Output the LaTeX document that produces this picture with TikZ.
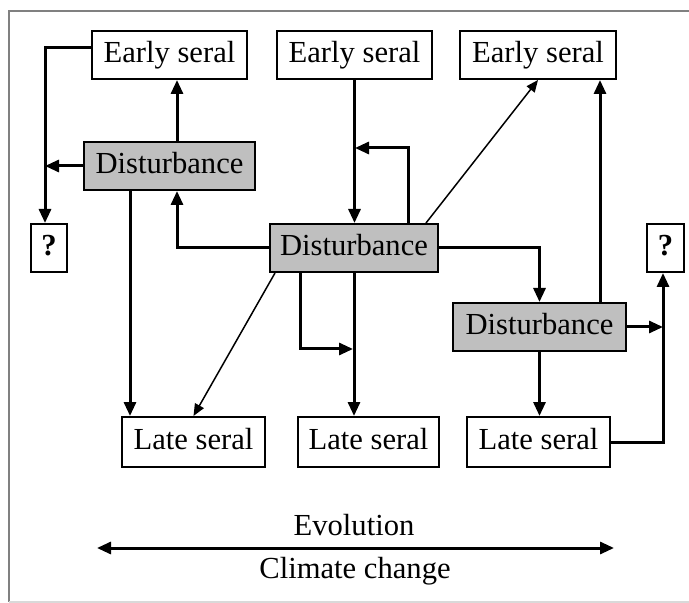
\documentclass[tikz,border=0pt]{standalone}
\usepackage{fontspec}
\setmainfont{Liberation Serif}
\usetikzlibrary{arrows.meta}

\tikzset{
  seral/.style={draw, line width=1pt, fill=white, inner sep=0pt,
    minimum height=24pt, text height=0.72em, text depth=0pt},
  dist/.style={seral, fill=gray!50},
  link/.style={line width=1.5pt, -{Triangle[length=7pt,width=6pt]}},
  thinlink/.style={line width=0.75pt, -{Triangle[length=6pt,width=5pt]}},
}

\begin{document}
\begin{tikzpicture}[x=0.5pt, y=-0.5pt, font=\fontsize{15.3}{18}\selectfont]
\useasboundingbox (0,0) rectangle (689,603);
\draw [gray, line width=0.75pt] (689,11) -- (9,11) -- (9,602);
\draw [gray!30, line width=0.75pt] (9,602) -- (689,602);

\node (es1) [seral, minimum width=77.5pt] at (169.5,55) {Early seral};
\node (es2) [seral, minimum width=77.5pt] at (354.5,55) {Early seral};
\node (es3) [seral, minimum width=78pt] at (538,55) {Early seral};
\node (d1) [dist, minimum width=85.5pt] at (169.5,166) {Disturbance};
\node (d2) [dist, minimum width=84pt] at (354,248) {Disturbance};
\node (d3) [dist, minimum width=86.5pt] at (539.5,327) {Disturbance};
\node (q1) [seral, minimum width=18pt] at (49,248) {\textbf{?}};
\node (q2) [seral, minimum width=18.5pt] at (665.5,248) {\textbf{?}};
\node (ls1) [seral, minimum width=71.5pt, minimum height=25pt] at (193.5,442) {Late seral};
\node (ls2) [seral, minimum width=70.5pt, minimum height=25pt] at (368.5,442) {Late seral};
\node (ls3) [seral, minimum width=71.5pt, minimum height=25pt] at (538.5,442) {Late seral};

\coordinate (qline) at (45,48);
\coordinate (loopin) at (355,148);
\coordinate (bendin) at (353,349);

\draw [link] ([yshift=3.5pt]es1.west) -| ([xshift=-2pt]q1.north);
\draw [link] (d1.west) -- (d1.west -| qline);
\draw [link] ([xshift=3.75pt]d1.north) -- ([xshift=3.75pt]es1.south);
\draw [link] (d2.west) -| ([xshift=3.75pt]d1.south);
\draw [link] ([xshift=-19.75pt]d1.south) -- ([xshift=-19.75pt]d1.south |- ls1.north);
\draw [thinlink] ([xshift=3pt]d2.south west) -- (ls1.north);
\draw [link] (es2.south) -- (es2.south |- d2.north);
\draw [link] ([xshift=27pt]d2.north) |- (loopin);
\draw [thinlink] ([xshift=-6.5pt]d2.north east) -- (es3.south);
\draw [link] (d2.east) -| (d3.north);
\draw [link] ([xshift=-27pt]d2.south) |- (bendin);
\draw [link] (d2.south) -- (d2.south |- ls2.north);
\draw [link] ([xshift=30.25pt]d3.north) -- ([xshift=30.25pt]d3.north |- es3.south);
\draw [link] (d3.east) -- ([xshift=-1.25pt]q2.south |- d3.east);
\draw [link] (ls3.east) -| ([xshift=-1.25pt]q2.south);
\draw [link] (d3.south) -- (d3.south |- ls3.north);

\coordinate (evl) at (97,548);
\coordinate (evr) at (614,548);
\draw [line width=1.5pt, {Triangle[length=7pt,width=6pt]}-{Triangle[length=7pt,width=6pt]}] (evl) -- (evr);
\node (evo) [anchor=base] at (354,535) {Evolution};
\node (clim) [anchor=base] at (355,578) {Climate change};
\end{tikzpicture}
\end{document}
